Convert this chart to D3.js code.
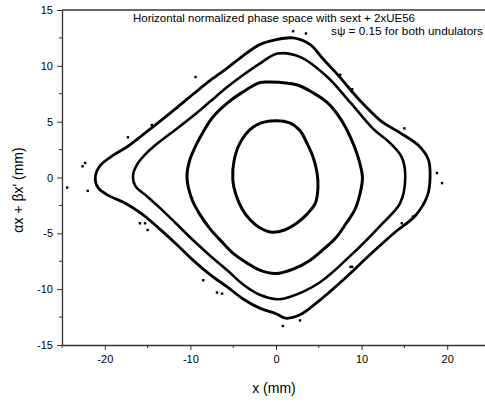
<!DOCTYPE html>
<html>
<head>
<meta charset="utf-8">
<script src="https://cdn.jsdelivr.net/npm/d3@7"></script>
<style>
  html, body { margin: 0; padding: 0; background: #fff; }
  svg text { font-family: "Liberation Sans", Arial, sans-serif; fill: #000; }
</style>
</head>
<body>
<svg id="chart" width="485" height="404"></svg>
<script>
// invariant curves, x (mm), ax+bx' (mm)
const orbit1 = [[-0.7,5.05],[1.6,4.9],[2.8,4.2],[3.6,3.1],[4.3,1.9],[4.8,0.4],[4.9,-0.9],[4.6,-2.3],[3.6,-3.3],[2.4,-4.1],[1.0,-4.7],[-0.5,-4.9],[-1.9,-4.5],[-3.0,-3.8],[-3.9,-2.9],[-4.7,-1.5],[-5.05,-0.2],[-4.9,1.5],[-4.2,3.1],[-2.7,4.5]];
const orbit2 = [[-0.7,8.55],[2.4,8.3],[4.3,7.6],[6.0,6.7],[7.5,5.3],[8.7,3.6],[9.6,1.8],[10.1,0],[9.8,-1.5],[9.2,-2.9],[8.2,-4.1],[7.1,-5.3],[5.6,-6.4],[4.0,-7.4],[2.0,-8.2],[0,-8.6],[-1.9,-8.3],[-3.5,-7.6],[-5.0,-6.8],[-6.4,-5.7],[-7.7,-4.6],[-8.9,-3.3],[-9.8,-2.0],[-10.4,0],[-10.1,1.5],[-9.4,2.8],[-8.5,4.1],[-7.4,5.4],[-5.8,6.6],[-4.0,7.6],[-1.9,8.5]];
const orbit3 = [[0.2,11.1],[2.8,10.8],[6.0,9.0],[8.7,6.7],[11.3,4.4],[13.3,3.1],[14.7,1.8],[15.1,0],[14.5,-2.3],[12.2,-4.3],[8.7,-7.0],[5.1,-9.4],[1.6,-10.7],[0.2,-10.9],[-1.9,-10.5],[-3.8,-9.6],[-5.7,-8.3],[-7.7,-7.0],[-9.7,-5.6],[-11.7,-4.1],[-13.6,-2.7],[-15.2,-1.6],[-16.4,-0.8],[-16.7,0.2],[-16.2,1.2],[-15.1,2.2],[-13.6,3.2],[-11.7,4.3],[-9.7,5.5],[-7.7,6.8],[-5.7,8.1],[-3.8,9.2],[-1.9,10.2]];
const orbit4 = [[2.0,12.5],[4.0,11.9],[5.4,10.7],[7.1,9.3],[9.8,6.9],[12.2,5.1],[14.5,4.0],[16.6,2.9],[17.8,1.6],[18.0,0],[17.7,-1.6],[16.3,-3.4],[13.9,-4.9],[11.0,-6.9],[8.1,-9.0],[5.1,-11.0],[2.8,-12.3],[1.1,-12.6],[0,-12.2],[-1.9,-11.7],[-3.8,-10.9],[-5.7,-9.8],[-7.7,-8.7],[-9.7,-7.4],[-11.6,-6.0],[-13.6,-4.6],[-15.6,-3.3],[-17.6,-2.3],[-19.6,-1.6],[-20.8,-0.9],[-21.1,0.1],[-20.5,1.1],[-19.0,2.0],[-17.3,2.8],[-15.6,3.8],[-13.6,5.0],[-11.5,6.3],[-9.3,7.7],[-7.5,8.8],[-5.7,9.8],[-4.2,10.7],[-1.9,11.9],[-0.2,12.3]];
const strays = [[2.0,13.1],[3.5,12.9],[-9.4,9.0],[7.5,9.2],[8.9,7.9],[15.0,4.4],[-17.3,3.6],[-14.5,4.7],[-22.3,1.3],[-22.6,1.0],[-24.4,-0.9],[-22.0,-1.2],[18.8,0.4],[19.4,-0.5],[-15.9,-4.1],[-15.3,-4.1],[-15.0,-4.7],[14.7,-4.1],[16.0,-3.5],[8.7,-8.0],[-8.5,-9.2],[-6.9,-10.3],[-6.3,-10.4],[0.8,-13.3],[2.8,-12.8],[8.9,-8.0]];

const xTicks = [-20, -10, 0, 10, 20];
const yTicks = [-15, -10, -5, 0, 5, 10, 15];
const xMinor = [-25, -15, -5, 5, 15, 25];
const yMinor = [-12.5, -7.5, -2.5, 2.5, 7.5, 12.5];

const titleText = "Horizontal normalized phase space with sext + 2xUE56";
const noteText = "s\u03C8 = 0.15 for both undulators";
const xLabel = "x (mm)";
const yLabel = "\u03B1x + \u03B2x' (mm)";

const svg = d3.select("#chart");
const m = { left: 62, right: 490, top: 10, bottom: 345 };

const x = d3.scaleLinear().domain([-25, 25]).range([m.left, m.right]);
const y = d3.scaleLinear().domain([-15, 15]).range([m.bottom, m.top]);

const axisColor = "#333";

// frame: top line only (right edge is cut off)
svg.append("line")
  .attr("x1", m.left).attr("x2", 485)
  .attr("y1", m.top).attr("y2", m.top)
  .attr("stroke", axisColor).attr("stroke-width", 1.3);

const gx = svg.append("g").attr("transform", `translate(0,${m.bottom})`);
gx.call(d3.axisBottom(x).tickValues(xTicks).tickSize(5).tickSizeOuter(0).tickFormat(d3.format("d")));
xMinor.forEach(v => {
  gx.append("line").attr("x1", x(v)).attr("x2", x(v)).attr("y1", 0).attr("y2", 3)
    .attr("stroke", axisColor).attr("stroke-width", 1);
});

const gy = svg.append("g").attr("transform", `translate(${m.left},0)`);
gy.call(d3.axisLeft(y).tickValues(yTicks).tickSize(5).tickSizeOuter(0).tickFormat(d3.format("d")));
yMinor.forEach(v => {
  gy.append("line").attr("x1", 0).attr("x2", -3).attr("y1", y(v)).attr("y2", y(v))
    .attr("stroke", axisColor).attr("stroke-width", 1);
});

[gx, gy].forEach(g => {
  g.select(".domain").attr("stroke", axisColor).attr("stroke-width", 1.3);
  g.selectAll(".tick line").attr("stroke", axisColor).attr("stroke-width", 1);
  g.selectAll(".tick text")
    .attr("font-family", "Liberation Sans, Arial, sans-serif")
    .attr("font-size", 11).attr("fill", "#000")
    .text(d => String(d));
});
gx.selectAll(".tick text").attr("dy", "1.05em").attr("y", 6);
gy.selectAll(".tick text").attr("x", -9);

const line = d3.line()
  .x(d => x(d[0]))
  .y(d => y(d[1]))
  .curve(d3.curveCatmullRomClosed.alpha(0.5));

const orbits = [
  { pts: orbit1, w: 3.0 },
  { pts: orbit2, w: 3.0 },
  { pts: orbit3, w: 2.6 },
  { pts: orbit4, w: 2.8 }
];

svg.append("g").selectAll("path")
  .data(orbits)
  .join("path")
  .attr("d", d => line(d.pts))
  .attr("fill", "none")
  .attr("stroke", "#000")
  .attr("stroke-width", d => d.w);

svg.append("g").selectAll("rect")
  .data(strays)
  .join("rect")
  .attr("x", d => x(d[0]) - 1.2)
  .attr("y", d => y(d[1]) - 1.2)
  .attr("width", 2.4)
  .attr("height", 2.4)
  .attr("fill", "#000");

svg.append("text")
  .attr("x", 274).attr("y", 22)
  .attr("text-anchor", "middle")
  .attr("font-size", 11)
  .attr("textLength", 282).attr("lengthAdjust", "spacingAndGlyphs")
  .text(titleText);

svg.append("text")
  .attr("x", 331).attr("y", 35)
  .attr("font-size", 11)
  .attr("textLength", 152).attr("lengthAdjust", "spacingAndGlyphs")
  .text(noteText);

svg.append("text")
  .attr("x", 274).attr("y", 393)
  .attr("text-anchor", "middle")
  .attr("font-size", 14)
  .text(xLabel);

svg.append("text")
  .attr("transform", "translate(23,190) rotate(-90)")
  .attr("text-anchor", "middle")
  .attr("font-size", 14)
  .text(yLabel);
</script>
</body>
</html>
